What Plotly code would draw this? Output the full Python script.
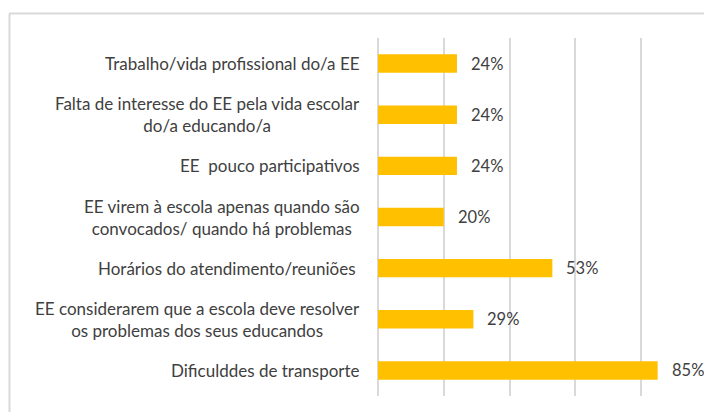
import plotly.graph_objects as go

categories = [
    "Trabalho/vida profissional do/a EE",
    "Falta de interesse do EE pela vida escolar<br>do/a educando/a",
    "EE\u00a0 pouco participativos",
    "EE virem à escola apenas quando são<br>convocados/ quando há problemas",
    "Horários do atendimento/reuniões\u00a0",
    "EE considerarem que a escola deve resolver<br>os problemas dos seus educandos",
    "Dificulddes de transporte",
]
values = [24, 24, 24, 20, 53, 29, 85]
value_labels = ["24%", "24%", "24%", "20%", "53%", "29%", "85%"]

FONT = "Lato"
TXT = "#404040"
GRID = "#d9d9d9"

fig = go.Figure(go.Bar(
    y=categories, x=values, orientation="h",
    marker=dict(color="#FFC000", line=dict(width=0)),
    hoverinfo="skip",
))

ann = []
for c, v, t in zip(categories, values, value_labels):
    ann.append(dict(x=v, y=c, xref="x", yref="y", text=t, showarrow=False,
                    xanchor="left", xshift=12, font=dict(family=FONT, size=16.5, color=TXT)))
    ann.append(dict(x=0, y=c, xref="x", yref="y", text=c, showarrow=False,
                    xanchor="right", align="center", xshift=-16,
                    font=dict(family=FONT, size=17, color=TXT)))

# page body has an 8px margin, so the figure is drawn from (8, 8)
OFF = 8
W, H = 712 - OFF, 412 - OFF
ml, mr, mt, mb = 370, 5, 30, 16
pw, ph = W - ml - mr, H - mt - mb
def px(x):
    return (x - OFF - ml) / pw
def py(y):
    return 1 - (y - OFF - mt) / ph

shapes = [
    dict(type="line", xref="paper", yref="paper", x0=px(9), x1=px(720), y0=py(13.5), y1=py(13.5),
         line=dict(color=GRID, width=2)),
    dict(type="line", xref="paper", yref="paper", x0=px(9.5), x1=px(9.5), y0=py(13.5), y1=py(420),
         line=dict(color=GRID, width=2)),
]

fig.update_layout(
    width=W, height=H,
    margin=dict(l=ml, r=mr, t=mt, b=mb, autoexpand=False),
    paper_bgcolor="white", plot_bgcolor="white",
    bargap=0.64,
    showlegend=False,
    annotations=ann,
    shapes=shapes,
    xaxis=dict(range=[0, 100], dtick=20, showgrid=True, gridcolor=GRID, gridwidth=2,
               zeroline=True, zerolinecolor=GRID, zerolinewidth=2,
               showticklabels=False, showline=False, ticks="", fixedrange=True),
    yaxis=dict(autorange="reversed", showticklabels=False, showgrid=False, ticks="",
               showline=False, zeroline=False, fixedrange=True),
)

fig.write_html("out.html", config={"displayModeBar": False})
